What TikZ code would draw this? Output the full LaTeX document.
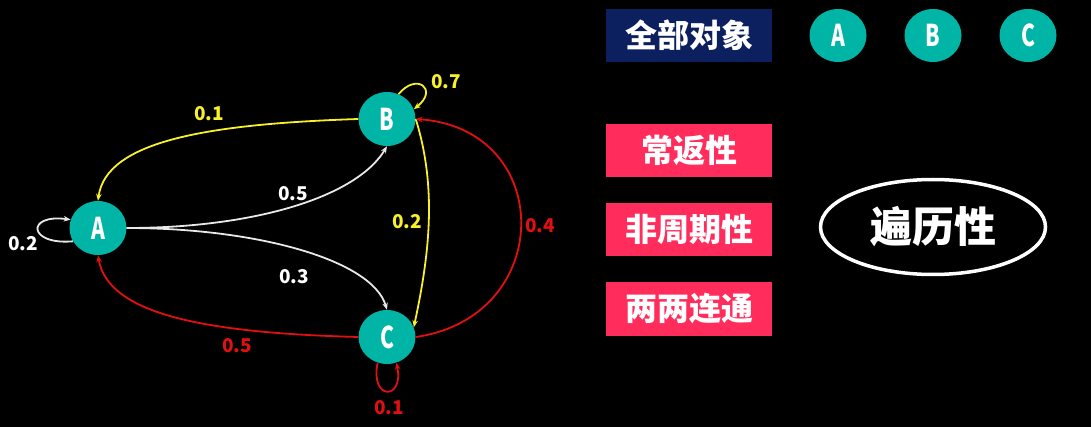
\documentclass[tikz,border=0pt]{standalone}
\usepackage{fontspec}
\usepackage{graphicx}
\setmainfont{Noto Sans CJK SC}
\usetikzlibrary{arrows.meta, shapes.geometric}

\definecolor{stateteal}{RGB}{0,180,166}
\definecolor{probyellow}{RGB}{248,240,40}
\definecolor{probred}{RGB}{225,16,16}
\definecolor{edgegray}{RGB}{232,232,232}
\definecolor{navybox}{RGB}{12,31,94}
\definecolor{pinkbox}{RGB}{255,44,92}

\begin{document}
\begin{tikzpicture}[x=1pt, y=1pt, >={Stealth[length=7pt,width=5.5pt]},
  state/.style={ellipse, fill=stateteal, text=white, minimum width=57pt, minimum height=54pt, inner sep=0pt, font=\bfseries\fontsize{30}{30}\selectfont},
  edge/.style={->, line width=1.8pt},
  prob/.style={font=\bfseries\fontsize{19}{19}\selectfont},
  tagbox/.style={minimum width=166pt, minimum height=53pt, inner sep=0pt, text=white, font=\bfseries\fontsize{32}{32}\selectfont}]
  \fill[black] (0,0) rectangle (1091,-427);
  \useasboundingbox (0,0) rectangle (1091,-427);

  % chain
  \node[state] (A) at (98,-228) {\scalebox{0.7}[1]{A}};
  \node[state] (B) at (387,-119) {\scalebox{0.7}[1]{B}};
  \node[state] (C) at (387,-337) {\scalebox{0.7}[1]{C}};

  \draw[edge, probyellow] (B.west) .. controls +(-150,-5) and +(8,60) .. (A.north);
  \draw[edge, edgegray] (A.east) .. controls +(130,0) and +(-30,-50) .. (B.south);
  \draw[edge, edgegray] (A.east) .. controls +(130,0) and +(-15,50) .. (C.north);
  \draw[edge, probred] (C.west) .. controls +(-150,4) and +(10,-60) .. (A.south);
  \draw[edge, probyellow] (B.east) .. controls +(22,-70) and +(15,70) .. (C.20);
  \draw[edge, probred] (C.east) .. controls +(140,20) and +(140,-10) .. (B.east);
  \draw[edge, probyellow] (B.65) .. controls +(18,22) and +(25,20) .. (B.20);
  \draw[edge, edgegray] (A.208) .. controls +(-45,-4) and +(-45,6) .. (A.163);
  \draw[edge, probred] (C.250) .. controls +(-8,-38) and +(8,-38) .. (C.290);

  \node[prob, probyellow] (pBA) at (209,-114) {0.1};
  \node[prob, white] (pAB) at (293,-194) {0.5};
  \node[prob, white] (pAC) at (294,-277) {0.3};
  \node[prob, probyellow] (pBC) at (407,-222) {0.2};
  \node[prob, probred] (pCB) at (540,-226) {0.4};
  \node[prob, probred] (pCA) at (237,-346) {0.5};
  \node[prob, probyellow] (pBB) at (446,-82) {0.7};
  \node[prob, white] (pAA) at (23,-244) {0.2};
  \node[prob, probred] (pCC) at (389,-408) {0.1};

  % legend
  \node[tagbox, fill=navybox] (all) at (689,-35.5) {全部对象};
  \node[state, minimum height=53pt] (lgA) at (838,-35.5) {\scalebox{0.7}[1]{A}};
  \node[state, minimum height=53pt] (lgB) at (933,-35.5) {\scalebox{0.7}[1]{B}};
  \node[state, minimum height=53pt] (lgC) at (1028,-35.5) {\scalebox{0.7}[1]{C}};

  \node[tagbox, fill=pinkbox] (recur) at (689,-150.5) {常返性};
  \node[tagbox, fill=pinkbox] (aper) at (689,-229.5) {非周期性};
  \node[tagbox, fill=pinkbox] (comm) at (689,-309) {两两连通};

  \node[ellipse, draw=white, line width=3.5pt, minimum width=225pt, minimum height=95pt, text=white, font=\bfseries\fontsize{42}{42}\selectfont] (ergo) at (933,-227) {遍历性};
\end{tikzpicture}
\end{document}
